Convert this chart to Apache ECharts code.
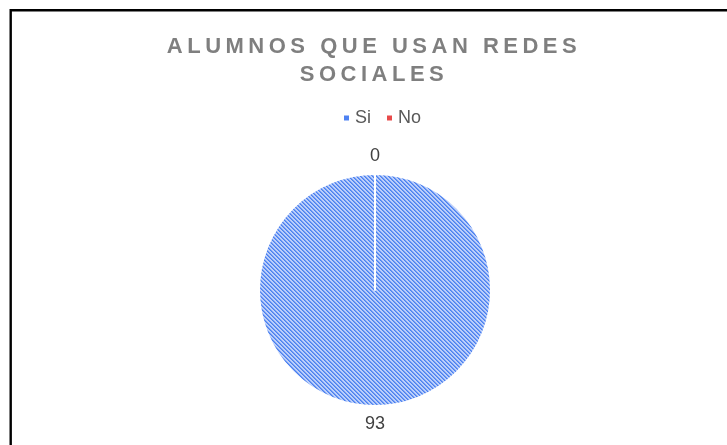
<!DOCTYPE html>
<html>
<head>
<meta charset="utf-8">
<script src="https://cdn.jsdelivr.net/npm/echarts@6/dist/echarts.min.js"></script>
<style>
html,body{margin:0;padding:0;background:#fff;}
#chart{width:727px;height:445px;}
</style>
</head>
<body>
<div id="chart"></div>
<script>
// ---- data ----
const titleText = 'ALUMNOS QUE USAN REDES\nSOCIALES';
const categories = ['Si', 'No'];
const values = [93, 0];
const legendColors = ['#4f82f2', '#e84a4a'];

// letter spacing for the title font (weight 800 marks the title)
(function () {
  const desc = Object.getOwnPropertyDescriptor(CanvasRenderingContext2D.prototype, 'font');
  Object.defineProperty(CanvasRenderingContext2D.prototype, 'font', {
    configurable: true,
    get() { return desc.get.call(this); },
    set(v) {
      desc.set.call(this, v);
      try { this.letterSpacing = /(^|\s)800\s/.test(v) ? '4.5px' : '0px'; } catch (e) {}
    }
  });
})();

// hatched pattern
function makePattern() {
  const c = document.createElement('canvas');
  c.width = 4; c.height = 4;
  const ctx = c.getContext('2d');
  for (let y = 0; y < 4; y++) {
    for (let x = 0; x < 4; x++) {
      const m = ((x - y) % 4 + 4) % 4;
      ctx.fillStyle = m === 0 ? '#4a80f0' : (m === 1 ? '#729cf3' : '#bccffa');
      ctx.fillRect(x, y, 1, 1);
    }
  }
  return c;
}

const chart = echarts.init(document.getElementById('chart'), null, { renderer: 'canvas' });
const sliceColors = [{ image: makePattern(), repeat: 'repeat' }, legendColors[1]];

chart.setOption({
  animation: false,
  backgroundColor: '#fff',
  graphic: [{
    type: 'rect',
    shape: { x: 10.7, y: 10.2, width: 900, height: 700 },
    style: { fill: 'none', stroke: '#000', lineWidth: 2.4 },
    silent: true
  }],
  title: {
    text: titleText,
    left: 369,
    textAlign: 'center',
    top: 28,
    textStyle: {
      fontFamily: 'Liberation Sans, Arial, sans-serif',
      fontSize: 22,
      fontWeight: 800,
      color: '#7f7f7f',
      lineHeight: 28
    }
  },
  legend: {
    data: categories.map((n, i) => ({ name: n, itemStyle: { color: legendColors[i] } })),
    top: 104,
    left: 337,
    icon: 'rect',
    itemWidth: 7,
    itemHeight: 7,
    itemGap: 14,
    textStyle: {
      fontFamily: 'Liberation Sans, Arial, sans-serif',
      fontSize: 18,
      color: '#595959'
    }
  },
  series: [{
    type: 'pie',
    center: [375, 290],
    radius: 116,
    startAngle: 90,
    clockwise: true,
    avoidLabelOverlap: false,
    data: categories.map((n, i) => ({ name: n, value: values[i], itemStyle: { color: sliceColors[i] } })),
    itemStyle: { borderColor: '#fff', borderWidth: 2 },
    label: {
      show: true,
      position: 'outside',
      formatter: '{c}',
      fontFamily: 'Liberation Sans, Arial, sans-serif',
      fontSize: 18,
      color: '#404040'
    },
    labelLine: { show: false, length: 18, length2: 0 },
    labelLayout: function (p) {
      return { x: p.rect.x + p.rect.width / 2, align: 'center' };
    },
    emphasis: { disabled: true }
  }]
});
</script>
</body>
</html>
